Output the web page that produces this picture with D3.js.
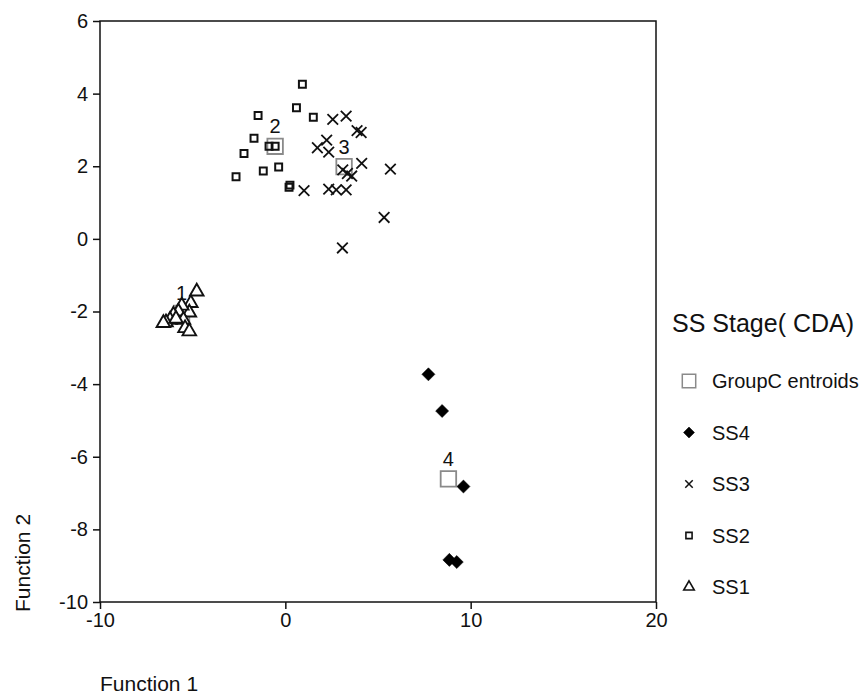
<!DOCTYPE html>
<meta charset="utf-8">
<script src="https://d3js.org/d3.v7.min.js"></script>
<style>
  body { margin: 0; background: #fff; }
  text { font-family: "Liberation Sans", Arial, sans-serif; fill: #111; }
</style>
<div id="my_dataviz"></div>
<script>
// discriminant scores: [function1, function2]
var ss1 = [[-4.78,-1.45],[-5.10,-1.77],[-5.18,-2.03],[-5.59,-1.84],[-5.77,-2.0],[-6.04,-2.09],
           [-6.22,-2.23],[-6.44,-2.30],[-6.58,-2.32],[-5.50,-2.23],[-5.41,-2.46],[-5.18,-2.55],[-5.9,-2.2]];
var ss2 = [[0.92,4.26],[0.60,3.61],[1.51,3.35],[-1.47,3.40],[-1.69,2.77],[-2.23,2.35],[-0.88,2.55],
           [-0.55,2.55],[-0.36,1.98],[-1.19,1.87],[-2.66,1.71],[0.25,1.48],[0.2,1.42]];
var ss3 = [[2.56,3.29],[3.28,3.38],[3.87,2.98],[4.09,2.93],[2.23,2.72],[1.73,2.51],[2.34,2.39],
           [4.12,2.08],[5.67,1.92],[3.1,1.9],[3.35,1.8],[3.58,1.73],[1.01,1.33],[2.34,1.37],
           [2.75,1.35],[3.28,1.35],[5.33,0.59],[3.08,-0.25]];
var ss4 = [[7.72,-3.73],[8.46,-4.74],[9.61,-6.82],[8.85,-8.84],[9.25,-8.90]];
var centroids = [[-5.6,-2.05],[-0.55,2.55],[3.17,1.99],[8.8,-6.61]];
var centroidNames = ["1","2","3","4"];
var xTicks = [-10, 0, 10, 20];
var yTicks = [-10, -8, -6, -4, -2, 0, 2, 4, 6];
var legendNames = ["GroupC entroids", "SS4", "SS3", "SS2", "SS1"];

var margin = {top: 21, right: 208, bottom: 93, left: 100},
    width = 864 - margin.left - margin.right,
    height = 695 - margin.top - margin.bottom;

var svg = d3.select("#my_dataviz")
  .append("svg")
    .attr("width", 864)
    .attr("height", 695)
  .append("g")
    .attr("transform", "translate(" + margin.left + "," + margin.top + ")");

var x = d3.scaleLinear().domain([-10, 20]).range([0, width]);
var y = d3.scaleLinear().domain([-10, 6]).range([height, 0]);

// frame
svg.append("rect")
  .attr("width", width).attr("height", height)
  .attr("fill", "none").attr("stroke", "#111").attr("stroke-width", 1.5);

var fmt = function(d) { return String(d); };   // plain hyphen minus like the original
var xAxis = svg.append("g")
  .attr("transform", "translate(0," + height + ")")
  .call(d3.axisBottom(x).tickValues(xTicks).tickFormat(fmt).tickSize(7).tickPadding(4));
var yAxis = svg.append("g")
  .call(d3.axisLeft(y).tickValues(yTicks).tickFormat(fmt).tickSize(7).tickPadding(5));
[xAxis, yAxis].forEach(function(a) {
  a.attr("font-size", null).attr("font-family", null);
  a.select(".domain").remove();
  a.selectAll("line").attr("stroke", "#111").attr("stroke-width", 1.5);
  a.selectAll("text").style("font-size", "20px").attr("fill", "#111");
});

// symbols
var sym = {
  sq: d3.symbol().type(d3.symbolSquare).size(48),
  cen: d3.symbol().type(d3.symbolSquare).size(240),
  tri: d3.symbol().type(d3.symbolTriangle).size(80),
  dia: d3.symbol().type(d3.symbolSquare).size(85),
  cross: d3.symbol().type(d3.symbolX).size(75)
};

function plot(data, path, fill, stroke, sw, rot) {
  svg.append("g").selectAll("path")
    .data(data).enter().append("path")
      .attr("transform", function(d) { return "translate(" + x(d[0]) + "," + y(d[1]) + ")" + (rot ? " rotate(45)" : ""); })
      .attr("d", path)
      .attr("fill", fill)
      .attr("stroke", stroke)
      .attr("stroke-width", sw);
}

plot(centroids, sym.cen, "none", "#8a8a8a", 1.8);
plot(ss1, sym.tri, "#fff", "#111", 1.9);
plot(ss2, sym.sq, "none", "#111", 2);
plot(ss3, sym.cross, "none", "#111", 1.8);
plot(ss4, sym.dia, "#000", "#000", 0.5, true);

svg.append("g").selectAll("text")
  .data(centroids).enter().append("text")
    .attr("x", function(d) { return x(d[0]); })
    .attr("y", function(d) { return y(d[1]) - 13; })
    .attr("text-anchor", "middle")
    .style("font-size", "20px")
    .text(function(d, i) { return centroidNames[i]; });

// axis titles
svg.append("text")
  .attr("x", 0)
  .attr("y", height + 89)
  .style("font-size", "21px")
  .text("Function 1");

svg.append("text")
  .attr("transform", "rotate(-90)")
  .attr("x", -(height + 10))
  .attr("y", -70)
  .style("font-size", "21px")
  .text("Function 2");

// legend
var lg = svg.append("g").attr("transform", "translate(" + (width + 16) + ",0)");
lg.append("text").attr("x", 0).attr("y", 311).style("font-size", "25px").text("SS Stage( CDA)");
var legendSyms = [
  {p: d3.symbol().type(d3.symbolSquare).size(180), f: "none", s: "#8a8a8a", w: 1.5, r: false},
  {p: d3.symbol().type(d3.symbolSquare).size(60), f: "#000", s: "#000", w: 0.5, r: true},
  {p: d3.symbol().type(d3.symbolX).size(38), f: "none", s: "#111", w: 1.5, r: false},
  {p: d3.symbol().type(d3.symbolSquare).size(38), f: "none", s: "#111", w: 1.6, r: false},
  {p: d3.symbol().type(d3.symbolTriangle).size(48), f: "none", s: "#111", w: 1.6, r: false}
];
legendNames.forEach(function(name, i) {
  var yy = 360 + i * 51.5;
  lg.append("path")
    .attr("transform", "translate(" + 17 + "," + yy + ")" + (legendSyms[i].r ? " rotate(45)" : ""))
    .attr("d", legendSyms[i].p)
    .attr("fill", legendSyms[i].f)
    .attr("stroke", legendSyms[i].s)
    .attr("stroke-width", legendSyms[i].w);
  lg.append("text").attr("x", 40).attr("y", yy + 7).style("font-size", "20px").text(name);
});
</script>
